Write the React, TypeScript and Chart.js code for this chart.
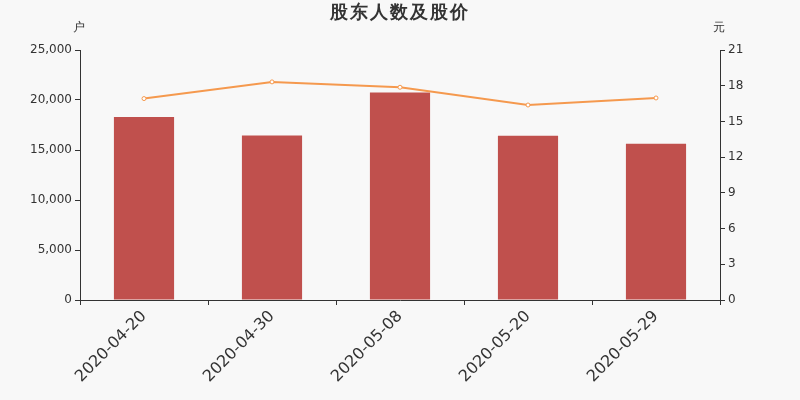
import React, { useEffect, useRef } from 'react';
import { Chart, registerables } from 'chart.js';

Chart.register(...registerables);

const categories = ['2020-04-20', '2020-04-30', '2020-05-08', '2020-05-20', '2020-05-29'];
const holders = [18300, 16450, 20750, 16430, 15630];
const prices = [16.92, 18.32, 17.87, 16.38, 16.97];
const titleText = '股东人数及股价';
const leftUnit = '户';
const rightUnit = '元';

const FONT = '"DejaVu Sans", sans-serif';

const textPlugin = {
  id: 'textPlugin',
  afterDraw(chart: any) {
    const ctx = chart.ctx;
    const area = chart.chartArea;
    ctx.save();
    ctx.fillStyle = '#333';
    ctx.textAlign = 'center';
    ctx.textBaseline = 'middle';
    ctx.font = `bold 18px ${FONT}`;
    try { (ctx as any).letterSpacing = '2px'; } catch (e) {}
    ctx.fillText(titleText, 400, 13);
    try { (ctx as any).letterSpacing = '0px'; } catch (e) {}
    ctx.font = `12px ${FONT}`;
    ctx.fillText(leftUnit, area.left - 1, 28);
    ctx.fillText(rightUnit, area.right - 1, 28);
    ctx.restore();
  },
};

export default function App() {
  const ref = useRef<HTMLCanvasElement | null>(null);
  useEffect(() => {
    document.body.style.margin = '0';
    const canvas = ref.current;
    if (!canvas) return;
    const chart = new Chart(canvas, {
      type: 'bar',
      data: {
        labels: categories,
        datasets: [
          {
            type: 'line',
            label: '股价',
            data: prices,
            yAxisID: 'y1',
            borderColor: '#f5994e',
            backgroundColor: '#ffffff',
            pointBackgroundColor: '#ffffff',
            pointBorderColor: '#f5994e',
            pointRadius: 2,
            pointBorderWidth: 1,
            borderWidth: 2,
            tension: 0,
            order: 0,
          } as any,
          {
            type: 'bar',
            label: '股东人数',
            data: holders,
            yAxisID: 'y',
            backgroundColor: '#c0504d',
            barPercentage: 0.47,
            categoryPercentage: 1,
            order: 1,
          },
        ],
      },
      options: {
        responsive: false,
        animation: false,
        devicePixelRatio: 1,
        layout: { padding: { top: 50, left: 0, right: 0, bottom: 0 } },
        plugins: {
          legend: { display: false },
          tooltip: { enabled: false },
          title: { display: false },
        },
        scales: {
          x: {
            offset: true,
            grid: { offset: true, drawOnChartArea: false, drawTicks: true, tickLength: 5, color: '#333' },
            border: { display: true, color: '#333' },
            ticks: {
              color: '#333',
              font: { family: FONT, size: 16 },
              minRotation: 45,
              maxRotation: 45,
              padding: 2,
            },
            afterFit(scale: any) {
              scale.height = 100;
            },
          },
          y: {
            position: 'left',
            min: 0,
            max: 25000,
            grid: { drawOnChartArea: false, drawTicks: true, tickLength: 5, color: '#333' },
            border: { display: true, color: '#333' },
            ticks: {
              stepSize: 5000,
              color: '#333',
              padding: 3,
              font: { family: FONT, size: 12 },
              callback: (v: any) => Number(v).toLocaleString('en-US'),
            },
            afterFit(scale: any) {
              scale.width = 80;
            },
          },
          y1: {
            position: 'right',
            min: 0,
            max: 21,
            grid: { drawOnChartArea: false, drawTicks: true, tickLength: 5, color: '#333' },
            border: { display: true, color: '#333' },
            ticks: {
              stepSize: 3,
              color: '#333',
              padding: 3,
              font: { family: FONT, size: 12 },
            },
            afterFit(scale: any) {
              scale.width = 80;
            },
          },
        },
      },
      plugins: [textPlugin],
    });
    return () => chart.destroy();
  }, []);
  return (
    <div style={{ position: 'fixed', left: 0, top: 0, width: 800, height: 400, background: '#f8f8f8' }}>
      <canvas ref={ref} width={800} height={400} />
    </div>
  );
}
